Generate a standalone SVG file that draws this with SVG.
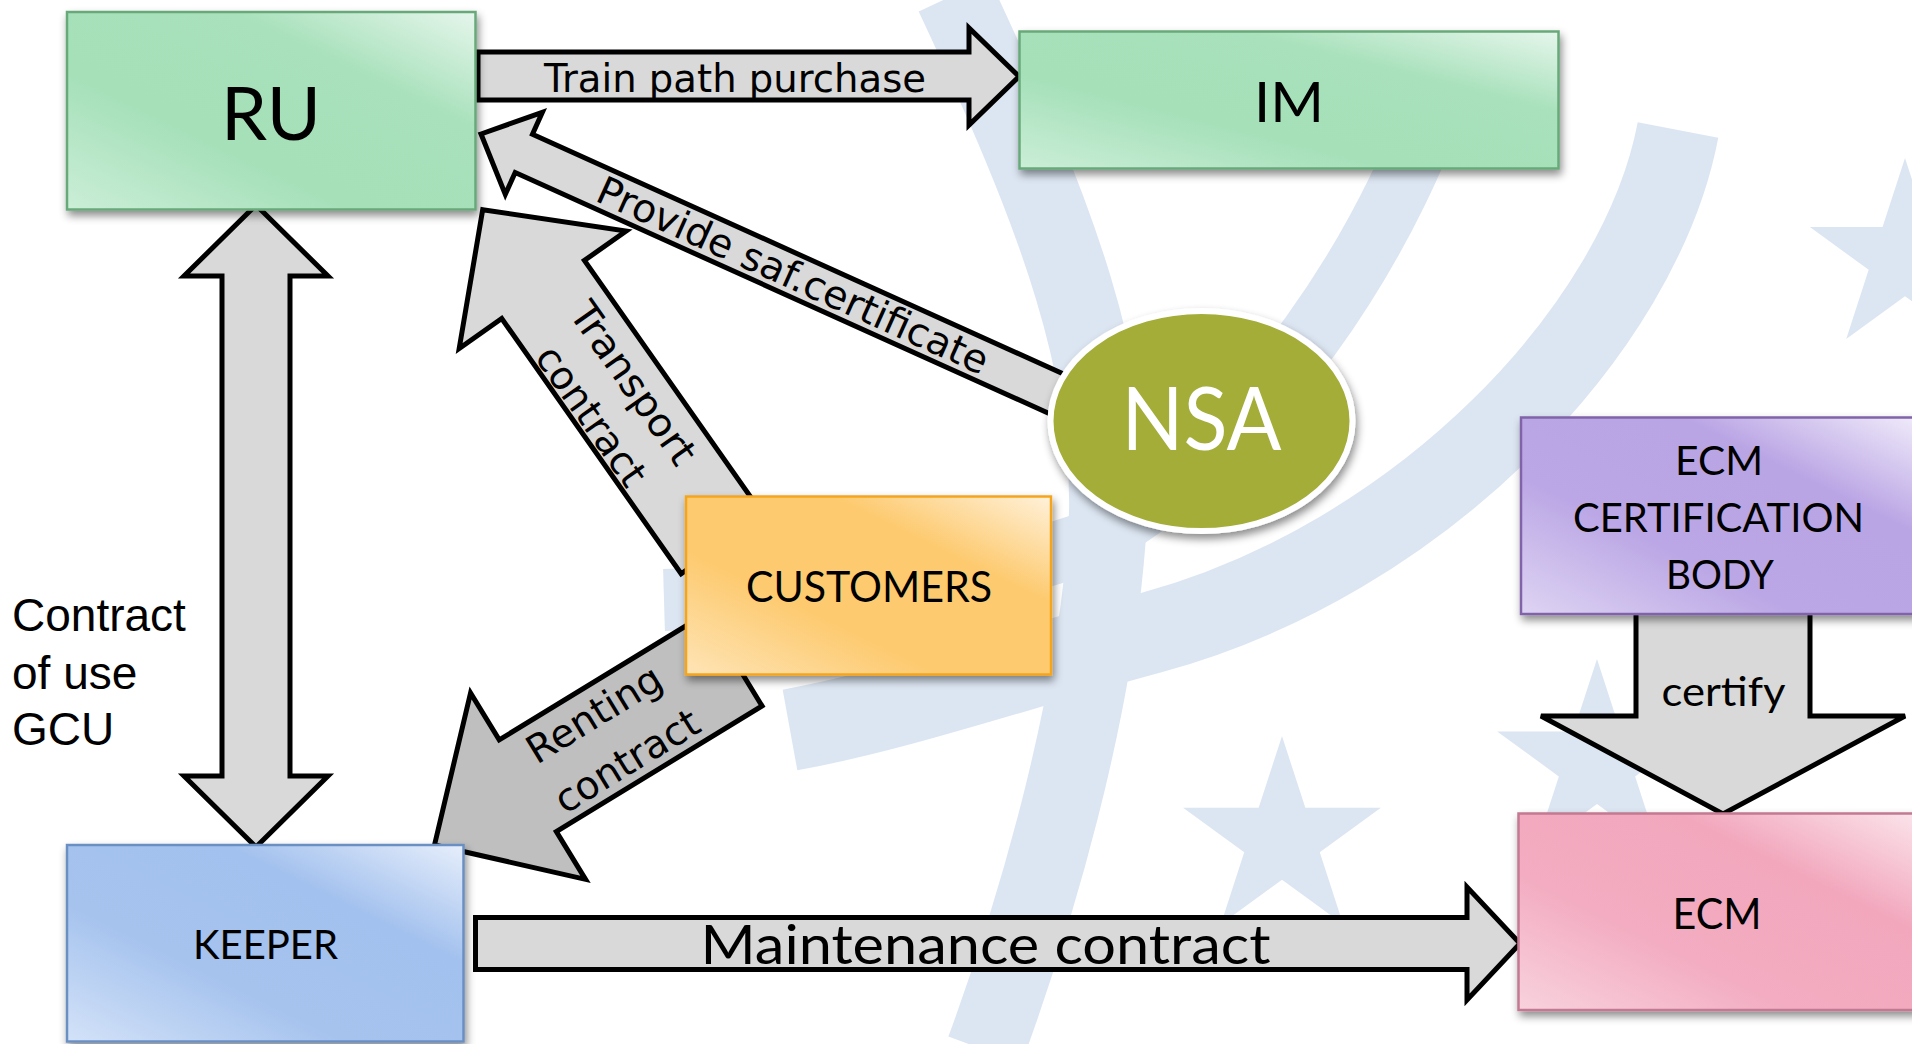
<svg xmlns="http://www.w3.org/2000/svg" xmlns:xlink="http://www.w3.org/1999/xlink" width="1912" height="1044" viewBox="0 0 1912 1044">
  <style>
    .wm { fill: none; stroke: #dce6f2; stroke-linecap: butt; }
    .star { fill: #dce6f2; }
    .arrow { fill: #d9d9d9; stroke: #000; stroke-width: 5; stroke-linejoin: miter; }
    .arrow.dark { fill: #bfbfbf; }
    .lbl { font-family: "DejaVu Sans", Verdana, sans-serif; font-size: 39px; fill: #000; }
    .gcu { font-family: "Liberation Sans", Arial, sans-serif; font-size: 46px; fill: #000; }
    .nt { font-family: Lato, "Open Sans", sans-serif; fill: #000; text-anchor: middle; }
    .box { stroke-width: 2.5; filter: url(#shadow); }
  </style>
  <defs>
    <filter id="shadow" x="-10%" y="-10%" width="125%" height="130%">
      <feDropShadow dx="2" dy="5" stdDeviation="4" flood-color="#000" flood-opacity="0.45"/>
    </filter>
    <polygon id="star" points="0,-1 0.2245,-0.309 0.9511,-0.309 0.3633,0.118 0.5878,0.809 0,0.382 -0.5878,0.809 -0.3633,0.118 -0.9511,-0.309 -0.2245,-0.309"/>
    <linearGradient id="gGreen" x1="1" y1="0" x2="0" y2="1">
      <stop offset="0" stop-color="#e6f6ec"/>
      <stop offset="0.3" stop-color="#a8e1bb"/>
      <stop offset="0.65" stop-color="#a5e0b9"/>
      <stop offset="1" stop-color="#cbeed7"/>
    </linearGradient>
    <linearGradient id="gOrange" x1="1" y1="0" x2="0" y2="1">
      <stop offset="0" stop-color="#fff1da"/>
      <stop offset="0.3" stop-color="#fdca6f"/>
      <stop offset="0.65" stop-color="#fdca6f"/>
      <stop offset="1" stop-color="#fee4b6"/>
    </linearGradient>
    <linearGradient id="gPurple" x1="1" y1="0" x2="0" y2="1">
      <stop offset="0" stop-color="#f0ebfa"/>
      <stop offset="0.3" stop-color="#b9a4e4"/>
      <stop offset="0.65" stop-color="#bba7e5"/>
      <stop offset="1" stop-color="#ded4f3"/>
    </linearGradient>
    <linearGradient id="gPink" x1="1" y1="0" x2="0" y2="1">
      <stop offset="0" stop-color="#fbe4eb"/>
      <stop offset="0.3" stop-color="#f2a7bd"/>
      <stop offset="0.65" stop-color="#f3acc1"/>
      <stop offset="1" stop-color="#f8d2dd"/>
    </linearGradient>
    <linearGradient id="gBlue" x1="1" y1="0" x2="0" y2="1">
      <stop offset="0" stop-color="#e6eefb"/>
      <stop offset="0.3" stop-color="#a3c1ee"/>
      <stop offset="0.65" stop-color="#a6c3ee"/>
      <stop offset="1" stop-color="#d3e2f8"/>
    </linearGradient>
  </defs>

  <rect width="1912" height="1044" fill="#ffffff"/>

  <!-- faint background emblem: swooshes and stars -->
  <g id="watermark">
    <path class="wm" stroke-width="78" d="M 954 -5 C 1050 200, 1125 380, 1105 560 C 1090 720, 1040 900, 985 1050"/>
    <path class="wm" stroke-width="62" d="M 1455 40 C 1400 240, 1250 460, 1080 545 C 950 590, 800 596, 664 600"/>
    <path class="wm" stroke-width="82" d="M 1678 130 C 1640 330, 1420 560, 1150 633 C 1020 668, 900 710, 790 730"/>
    <use href="#star" class="star" transform="translate(1282,840) scale(104)"/>
    <use href="#star" class="star" transform="translate(1597,764) scale(105)"/>
    <use href="#star" class="star" transform="translate(1905,258) scale(100)"/>
  </g>

  <!-- connectors -->
  <g id="connectors">
    <!-- RU -> IM -->
    <g id="c-train-path">
      <polygon class="arrow" points="478,52 969,52 969,28 1019,76.5 969,125 969,100 478,100"/>
      <text class="lbl" x="544" y="92" font-size="38" textLength="382" lengthAdjust="spacingAndGlyphs">Train path purchase</text>
    </g>
    <!-- NSA -> RU -->
    <g id="c-safety-cert" transform="translate(481,134) rotate(24.3)">
      <polygon class="arrow" points="0,0 47,-45 47,-21 680,-21 680,21 47,21 47,45"/>
      <text class="lbl" x="130" y="14" textLength="425" lengthAdjust="spacingAndGlyphs">Provide saf.certificate</text>
    </g>
    <!-- CUSTOMERS -> RU -->
    <g id="c-transport" transform="translate(482.7,209.7) rotate(54.9)">
      <polygon class="arrow" points="0,0 100,-105 100,-54 412,-54 412,47 100,47 100,99"/>
      <text class="lbl" x="134" y="-10" textLength="189" lengthAdjust="spacingAndGlyphs">Transport</text>
      <text class="lbl" x="150" y="43" textLength="162" lengthAdjust="spacingAndGlyphs">contract</text>
    </g>
    <!-- CUSTOMERS -> KEEPER -->
    <g id="c-renting" transform="translate(434.5,845) rotate(-31.4)">
      <polygon class="arrow dark" points="0,0 110,-111 110,-56 352,-56 352,52 111,52 111,108"/>
      <text class="lbl" x="129" y="-15" textLength="151" lengthAdjust="spacingAndGlyphs">Renting</text>
      <text class="lbl" x="127" y="42" textLength="162" lengthAdjust="spacingAndGlyphs">contract</text>
    </g>
    <!-- RU <-> KEEPER -->
    <g id="c-gcu">
      <polygon class="arrow" points="256,205 328,276 290,276 290,776 328,776 256,847 184,776 222,776 222,276 184,276"/>
      <text class="gcu" x="12" y="631">Contract</text>
      <text class="gcu" x="12" y="689">of use</text>
      <text class="gcu" x="12" y="745">GCU</text>
    </g>
    <!-- KEEPER -> ECM -->
    <g id="c-maintenance">
      <polygon class="arrow" points="475.5,917.5 1467,917.5 1467,887 1520,943.5 1467,1000 1467,969.5 475.5,969.5"/>
      <text class="nt" x="985.5" y="964" font-size="54" textLength="570" lengthAdjust="spacingAndGlyphs">Maintenance contract</text>
    </g>
    <!-- ECM CERTIFICATION BODY -> ECM -->
    <g id="c-certify">
      <polygon class="arrow" points="1636,605 1810,605 1810,716 1905,716 1723,814 1541,716 1636,716"/>
      <text class="nt" x="1723.5" y="706" font-size="40" textLength="124" lengthAdjust="spacingAndGlyphs">certify</text>
    </g>
  </g>

  <!-- nodes -->
  <g id="node-ru">
    <rect class="box" x="67" y="12" width="408.5" height="197.5" fill="url(#gGreen)" stroke="#68a97a"/>
    <text class="nt" x="271" y="139.5" font-size="74" textLength="100" lengthAdjust="spacingAndGlyphs">RU</text>
  </g>
  <g id="node-im">
    <rect class="box" x="1019.5" y="31.5" width="539" height="137" fill="url(#gGreen)" stroke="#68a97a"/>
    <text class="nt" x="1289" y="121.5" font-size="57" textLength="70" lengthAdjust="spacingAndGlyphs">IM</text>
  </g>
  <g id="node-nsa">
    <ellipse cx="1201.5" cy="421" rx="151" ry="110" fill="#a3ad38" stroke="#ffffff" stroke-width="6" filter="url(#shadow)"/>
    <text class="nt" x="1201.5" y="450" font-size="87" style="fill:#ffffff" textLength="160" lengthAdjust="spacingAndGlyphs">NSA</text>
  </g>
  <g id="node-customers">
    <rect class="box" x="686" y="496.5" width="365" height="178" fill="url(#gOrange)" stroke="#f5a51f"/>
    <text class="nt" x="869" y="601.5" font-size="42" textLength="246" lengthAdjust="spacingAndGlyphs">CUSTOMERS</text>
  </g>
  <g id="node-ecm-cert">
    <rect class="box" x="1521" y="417.5" width="396" height="196.5" fill="url(#gPurple)" stroke="#8064a8"/>
    <text class="nt" x="1719" y="474.5" font-size="40" textLength="88" lengthAdjust="spacingAndGlyphs">ECM</text>
    <text class="nt" x="1718.5" y="532" font-size="40" textLength="291" lengthAdjust="spacingAndGlyphs">CERTIFICATION</text>
    <text class="nt" x="1720" y="589" font-size="40" textLength="108" lengthAdjust="spacingAndGlyphs">BODY</text>
  </g>
  <g id="node-ecm">
    <rect class="box" x="1518.5" y="813.5" width="398" height="196.5" fill="url(#gPink)" stroke="#c27991"/>
    <text class="nt" x="1717" y="928.5" font-size="42" textLength="89" lengthAdjust="spacingAndGlyphs">ECM</text>
  </g>
  <g id="node-keeper">
    <rect class="box" x="67" y="845" width="396.5" height="196.5" fill="url(#gBlue)" stroke="#6b8fc3"/>
    <text class="nt" x="265.5" y="959" font-size="41" textLength="145" lengthAdjust="spacingAndGlyphs">KEEPER</text>
  </g>
</svg>
